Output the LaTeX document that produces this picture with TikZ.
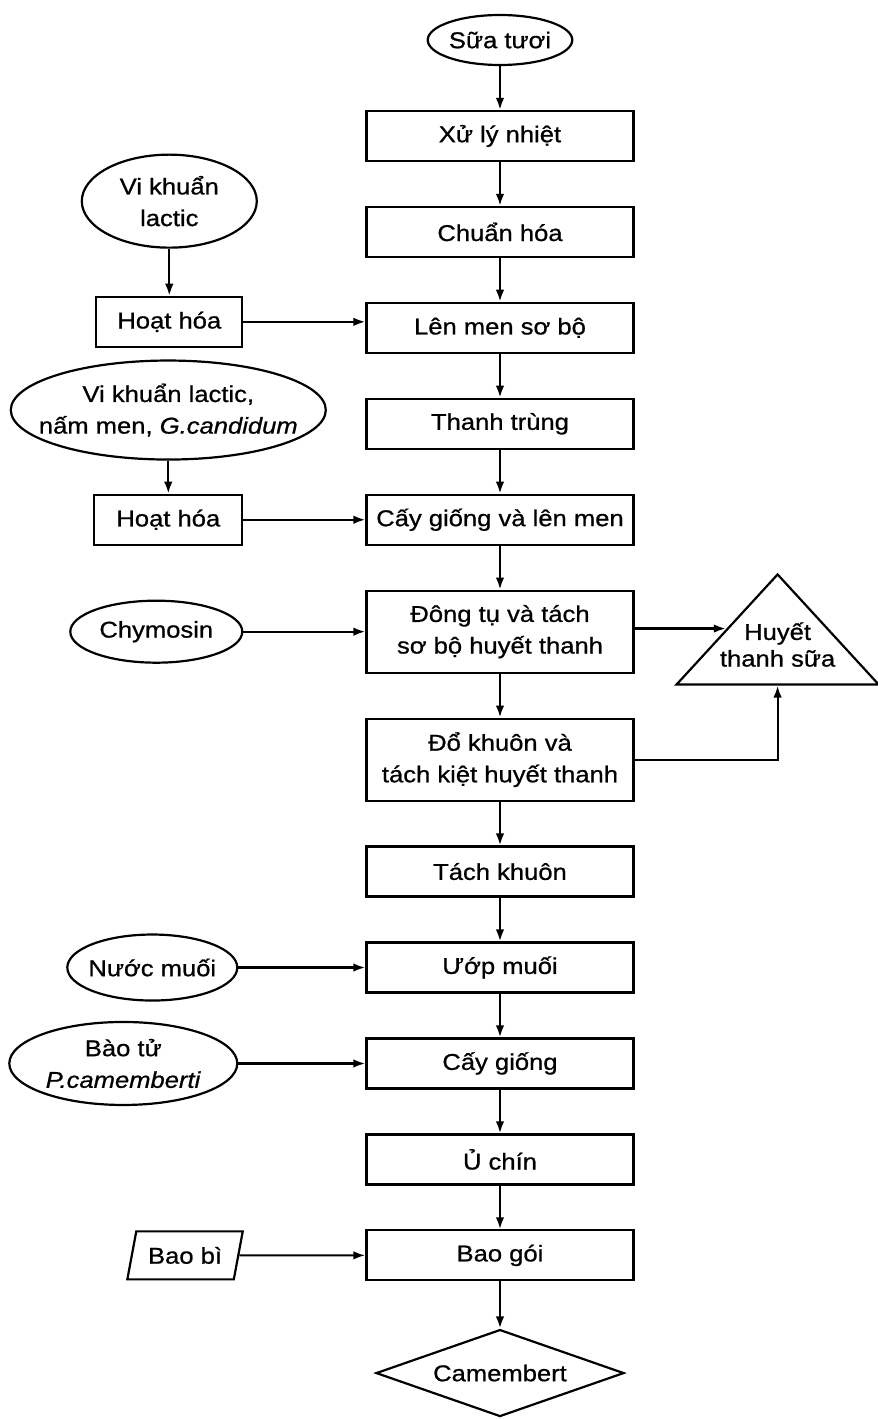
\documentclass[tikz,border=0pt]{standalone}
\usepackage{fontspec}
\setmainfont{Liberation Sans}[FakeStretch=1.12,FakeBold=0.8]
\usetikzlibrary{arrows.meta,positioning,shapes.geometric,calc}

\begin{document}
\begin{tikzpicture}[
  font=\fontsize{13}{18}\selectfont,
  line width=1.25pt,
  proc/.style={draw,minimum width=53.4mm,minimum height=10mm,align=center,inner sep=1mm},
  feed/.style={draw,ellipse,inner sep=0pt,align=center},
  flow/.style={-{Latex[length=2.4mm,width=1.7mm]}},
  node distance=8.75mm
]
\useasboundingbox (-100mm,8mm) rectangle (75.4mm,-275.8mm);

\node[feed,minimum width=27.2mm,minimum height=10mm] (milk) at (0,0) {Sữa tươi};
\node[proc,below=of milk] (heat) {Xử lý nhiệt};
\node[proc,below=of heat] (norm) {Chuẩn hóa};
\node[proc,below=of norm] (pre) {Lên men sơ bộ};
\node[proc,below=of pre] (past) {Thanh trùng};
\node[proc,below=of past] (inoc) {Cấy giống và lên men};
\node[proc,below=of inoc,minimum height=16.4mm] (coag) {Đông tụ và tách\\sơ bộ huyết thanh};
\node[proc,below=of coag,minimum height=16.4mm] (mold) {Đổ khuôn và\\tách kiệt huyết thanh};
\node[proc,below=of mold] (demold) {Tách khuôn};
\node[proc,below=of demold] (salt) {Ướp muối};
\node[proc,below=of salt] (spray) {Cấy giống};
\node[proc,below=of spray] (ripen) {Ủ chín};
\node[proc,below=of ripen] (pack) {Bao gói};
\node[draw,diamond,aspect=2.85,minimum width=49.6mm,minimum height=17.4mm,inner sep=0pt,
      below=9.4mm of pack] (cheese) {Camembert};

\node[proc,minimum width=29.2mm,left=24.4mm of pre,yshift=1.2mm] (act1) {Hoạt hóa};
\node[feed,minimum width=35mm,minimum height=18.6mm,above=9.4mm of act1] (lab1) {Vi khuẩn\\lactic};
\node[proc,minimum width=29.6mm,left=24.4mm of inoc] (act2) {Hoạt hóa};
\node[feed,minimum width=63mm,minimum height=19.8mm,inner xsep=-3.7mm,above=6.6mm of act2] (lab2)
  {Vi khuẩn lactic,\\nấm men, \textit{G.candidum}};
\node[feed,minimum width=34.4mm,minimum height=12.4mm,left=24.4mm of coag] (chy) {Chymosin};
\node[feed,minimum width=34mm,minimum height=13.2mm,inner xsep=-1mm,left=25.4mm of salt] (brine) {Nước muối};
\node[feed,minimum width=45.6mm,minimum height=16.6mm,left=25.4mm of spray] (spore) {Bào tử\\\textit{P.camemberti}};
\node[draw,trapezium,trapezium stretches,trapezium left angle=75,trapezium right angle=105,
      minimum width=23.2mm,minimum height=9.6mm,inner xsep=1mm,left=25.2mm of pack] (wrap) {Bao bì};

\node[draw,isosceles triangle,isosceles triangle stretches,shape border rotate=90,
      minimum width=40.4mm,minimum height=22mm,inner xsep=-4mm,inner ysep=-5.2mm,align=center,
      anchor=apex] (whey) at ($(coag.north east)+(28.6mm,3.6mm)$)
  {Huyết\\[-1mm]thanh sữa\\[-2mm]\mbox{}};

\draw[flow] (milk) -- (heat);
\draw[flow] (heat) -- (norm);
\draw[flow] (norm) -- (pre);
\draw[flow] (pre) -- (past);
\draw[flow] (past) -- (inoc);
\draw[flow] (inoc) -- (coag);
\draw[flow] (coag) -- (mold);
\draw[flow] (mold) -- (demold);
\draw[flow] (demold) -- (salt);
\draw[flow] (salt) -- (spray);
\draw[flow] (spray) -- (ripen);
\draw[flow] (ripen) -- (pack);
\draw[flow] (pack) -- (cheese);

\draw[flow] (lab1) -- (act1);
\draw[flow] (act1) -- (act1 -| pre.west);
\draw[flow] (lab2) -- (act2);
\draw[flow] (act2) -- (inoc);
\draw[flow] (chy) -- (coag);
\draw[flow] (coag.east |- whey.left side) -- (whey.left side);
\draw[flow] (mold.east) -| (whey.lower side);
\draw[flow] (brine) -- (salt);
\draw[flow] (spore) -- (spray);
\draw[flow] (wrap) -- (pack);
\end{tikzpicture}
\end{document}
